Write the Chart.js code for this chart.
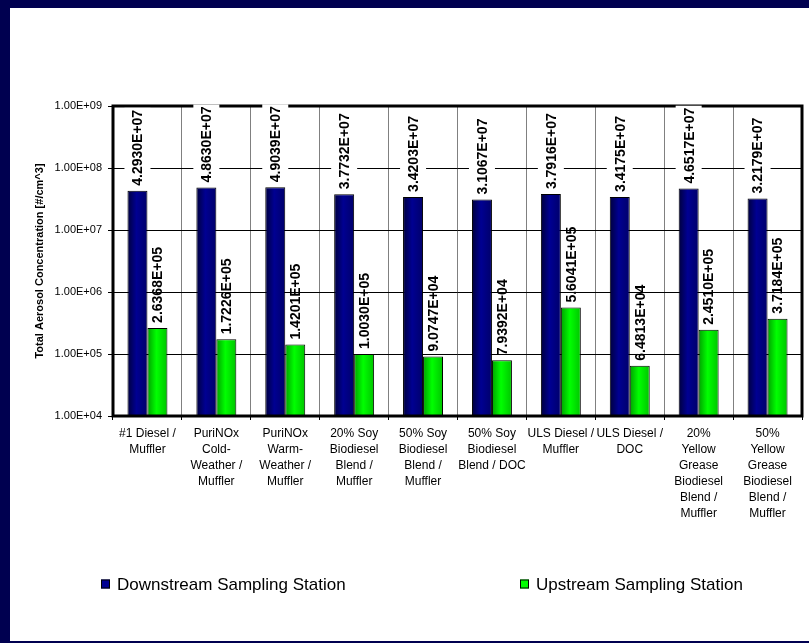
<!DOCTYPE html>
<html>
<head>
<meta charset="utf-8">
<script src="https://cdn.jsdelivr.net/npm/chart.js@4.4.1/dist/chart.umd.min.js"></script>
<style>
  body { margin: 0; background: #000050; width: 809px; height: 643px; overflow: hidden; }
  #panel { position: absolute; left: 10px; top: 8px; width: 799px; height: 633px; background: #fff; }
  canvas { display: block; }
</style>
</head>
<body>
<div id="panel"><canvas id="aerosolChart" width="799" height="633"></canvas></div>
<script>
let categories = [
  ["#1 Diesel /", "Muffler"],
  ["PuriNOx", "Cold-", "Weather /", "Muffler"],
  ["PuriNOx", "Warm-", "Weather /", "Muffler"],
  ["20% Soy", "Biodiesel", "Blend /", "Muffler"],
  ["50% Soy", "Biodiesel", "Blend /", "Muffler"],
  ["50% Soy", "Biodiesel", "Blend / DOC"],
  ["ULS Diesel /", "Muffler"],
  ["ULS Diesel /", "DOC"],
  ["20%", "Yellow", "Grease", "Biodiesel", "Blend /", "Muffler"],
  ["50%", "Yellow", "Grease", "Biodiesel", "Blend /", "Muffler"],
];
let downstream = [4.2930e7, 4.8630e7, 4.9039e7, 3.7732e7, 3.4203e7, 3.1067e7, 3.7916e7, 3.4175e7, 4.6517e7, 3.2179e7];
let upstream = [2.6368e5, 1.7226e5, 1.4201e5, 1.0030e5, 9.0747e4, 7.9392e4, 5.6041e5, 6.4813e4, 2.4510e5, 3.7184e5];
let yTicks = [1e4, 1e5, 1e6, 1e7, 1e8, 1e9];
let seriesNames = ["Downstream Sampling Station", "Upstream Sampling Station"];
let yTitle = "Total Aerosol Concentration [#/cm^3]";

const FONT = '"Liberation Sans", Arial, sans-serif';
const CAT_PCT = 0.58;
// [edge, centre, right edge] shades for the bar gradients
const navy = ["#00003c", "#000092", "#00006a"];
const green = ["#00a000", "#00ff00", "#00c400"];

// 4.2930E+07 style
function sci(v, digits) {
  let [m, e] = v.toExponential(digits).split("e");
  let n = Math.abs(parseInt(e, 10));
  return m + "E" + (e[0] === "-" ? "-" : "+") + (n < 10 ? "0" + n : n);
}

function barFill(shades) {
  return (c) => {
    const chart = c.chart;
    const xs = chart.scales.x;
    if (!chart.chartArea || !xs || c.dataIndex === undefined) return shades[1];
    const bw = (xs.width / categories.length) * CAT_PCT / 2;
    const left = xs.getPixelForValue(c.dataIndex) - bw + c.datasetIndex * bw;
    const g = chart.ctx.createLinearGradient(left, 0, left + bw, 0);
    g.addColorStop(0, shades[0]);
    g.addColorStop(0.45, shades[1]);
    g.addColorStop(1, shades[2]);
    return g;
  };
}

// plot frame, rotated value labels and the legend row
const decorations = {
  id: "decorations",
  afterDatasetsDraw(chart) {
    const { ctx, chartArea: a } = chart;
    ctx.save();
    ctx.strokeStyle = "#000";
    ctx.lineWidth = 3;
    ctx.strokeRect(a.left, a.top, a.right - a.left, a.bottom - a.top);
    ctx.restore();

    chart.data.datasets.forEach((ds, di) => {
      chart.getDatasetMeta(di).data.forEach((bar, i) => {
        const text = sci(ds.data[i], 4);
        ctx.save();
        ctx.font = "bold 14px " + FONT;
        const w = ctx.measureText(text).width;
        const y0 = bar.y - 5;
        if (di === 0) {
          ctx.fillStyle = "#fff";
          ctx.fillRect(bar.x - 13, y0 - w - 2, 26, w + 4);
        }
        ctx.translate(bar.x + 1, y0);
        ctx.rotate(-Math.PI / 2);
        ctx.fillStyle = "#000";
        ctx.textAlign = "left";
        ctx.textBaseline = "middle";
        ctx.fillText(text, 0, 0);
        ctx.restore();
      });
    });
  },
  afterDraw(chart) {
    const ctx = chart.ctx;
    const y = 576;
    const spots = [91, 510];
    ctx.save();
    ctx.font = "17px " + FONT;
    ctx.textBaseline = "middle";
    chart.data.datasets.forEach((ds, di) => {
      const x = spots[di];
      ctx.fillStyle = di === 0 ? navy[1] : green[1];
      ctx.fillRect(x, y - 4.5, 9, 9);
      ctx.strokeStyle = "#000";
      ctx.lineWidth = 1;
      ctx.strokeRect(x + 0.5, y - 4, 8, 8);
      ctx.fillStyle = "#000";
      ctx.fillText(ds.label, x + 16, y + 1);
    });
    ctx.restore();
  },
};

new Chart(document.getElementById("aerosolChart"), {
  type: "bar",
  data: {
    labels: categories,
    datasets: [
      { label: seriesNames[0], data: downstream, backgroundColor: barFill(navy) },
      { label: seriesNames[1], data: upstream, backgroundColor: barFill(green) },
    ],
  },
  options: {
    responsive: false,
    animation: false,
    layout: { padding: { top: 98, right: 7, bottom: 95, left: 0 } },
    datasets: {
      bar: {
        barPercentage: 1,
        categoryPercentage: CAT_PCT,
        borderColor: "#000",
        borderWidth: 1,
        borderSkipped: "bottom",
      },
    },
    plugins: {
      legend: { display: false },
      tooltip: { enabled: false },
    },
    scales: {
      x: {
        grid: { color: "#808080", tickColor: "#000", offset: true, tickLength: 4 },
        border: { display: false },
        ticks: {
          color: "#000",
          font: { family: FONT, size: 12, lineHeight: 16 / 12 },
          padding: 6,
          maxRotation: 0,
          autoSkip: false,
        },
        afterFit: (s) => { s.height = 130; },
      },
      y: {
        type: "logarithmic",
        min: 1e4,
        max: 1e9,
        afterBuildTicks: (s) => { s.ticks = yTicks.map((v) => ({ value: v })); },
        grid: { color: "#000", tickLength: 5 },
        border: { display: false },
        ticks: {
          color: "#000",
          font: { family: FONT, size: 11 },
          padding: 6,
          callback: (v) => sci(v, 2),
        },
        title: {
          display: true,
          text: yTitle,
          color: "#000",
          font: { family: FONT, size: 11, weight: "bold" },
          padding: { top: 23, bottom: 0 },
        },
        afterFit: (s) => { s.width = 103; },
      },
    },
  },
  plugins: [decorations],
});
</script>
</body>
</html>
